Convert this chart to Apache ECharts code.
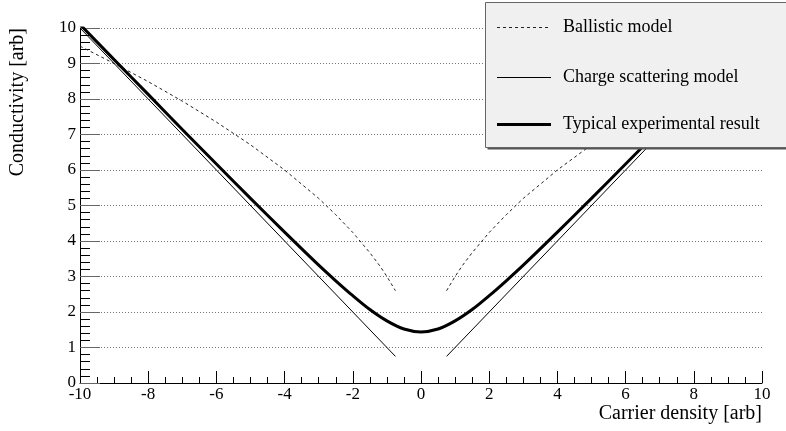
<!DOCTYPE html>
<html>
<head>
<meta charset="utf-8">
<script src="https://cdn.jsdelivr.net/npm/echarts@6/dist/echarts.min.js"></script>
<style>
  html, body { margin: 0; padding: 0; background: #fff; }
  #chart { width: 786px; height: 431px; }
</style>
</head>
<body>
<div id="chart"></div>
<script>
// Conductivity versus carrier density: two model curves and a measured curve
const FONT = 'Liberation Serif';

// Ballistic model (two branches, gap around the neutrality point)
const ballisticLeftX  = [-10, -9, -8, -7, -6, -5, -4, -3, -2.5, -2, -1.5, -1.2, -1, -0.75];
const ballisticLeftY  = [9.49, 9.0, 8.49, 7.94, 7.35, 6.71, 6.0, 5.2, 4.74, 4.24, 3.67, 3.29, 3.0, 2.6];
const ballisticRightX = [0.75, 1, 1.2, 1.5, 2, 2.5, 3, 4, 5, 6, 7, 8, 9, 10];
const ballisticRightY = [2.6, 3.0, 3.29, 3.67, 4.24, 4.74, 5.2, 6.0, 6.71, 7.35, 7.94, 8.49, 9.0, 9.49];

// Charge scattering model (straight branches)
const scatterLeftX  = [-10, -0.75];
const scatterLeftY  = [10, 0.75];
const scatterRightX = [0.75, 10];
const scatterRightY = [0.75, 10];

// Typical experimental result
const expX = [-10, -9, -8, -7, -6, -5, -4, -3, -2.5, -2, -1.5, -1, -0.5, 0, 0.5, 1, 1.5, 2, 2.5, 3, 4, 5, 6, 7, 8, 9, 10];
const expY = [10.1, 9.11, 8.13, 7.14, 6.17, 5.2, 4.25, 3.32, 2.88, 2.46, 2.07, 1.75, 1.52, 1.44, 1.52, 1.75, 2.07, 2.46, 2.88, 3.32, 4.25, 5.2, 6.17, 7.14, 8.13, 9.11, 10.1];

// Axis ticks
const xTicks = [-10, -8, -6, -4, -2, 0, 2, 4, 6, 8, 10];
const yTicks = [0, 1, 2, 3, 4, 5, 6, 7, 8, 9, 10];

const legendNames = ['Ballistic model', 'Charge scattering model', 'Typical experimental result'];

function pairs(xs, ys) { return xs.map((x, i) => [x, ys[i]]); }
function branches(lx, ly, rx, ry) {
  return pairs(lx, ly).concat([[0, '-']], pairs(rx, ry));
}

const chart = echarts.init(document.getElementById('chart'), null, { renderer: 'canvas' });

const legendLeft = 497, legendLen = 54, legendText = 563;
const legendRows = [27, 77, 124];
const legendStyles = [
  { stroke: '#222', lineWidth: 1, lineDash: [3, 3] },
  { stroke: '#000', lineWidth: 1 },
  { stroke: '#000', lineWidth: 3 }
];

const legendGraphics = [
  { type: 'rect', z: 10, shape: { x: 487.5, y: 4.5, width: 320, height: 145 }, style: { fill: '#555' } },
  { type: 'rect', z: 10, shape: { x: 485.5, y: 2.5, width: 320, height: 145 }, style: { fill: '#f0f0f0', stroke: '#666', lineWidth: 1 } }
];
legendNames.forEach((name, i) => {
  legendGraphics.push({
    type: 'line', z: 11,
    shape: { x1: legendLeft, y1: legendRows[i] + 0.5, x2: legendLeft + legendLen, y2: legendRows[i] + 0.5 },
    style: legendStyles[i]
  });
  legendGraphics.push({
    type: 'text', z: 11, x: legendText, y: legendRows[i],
    style: { text: name, font: '18px "' + FONT + '"', fill: '#000', align: 'left', verticalAlign: 'middle' }
  });
});

const option = {
  animation: false,
  backgroundColor: '#fff',
  grid: { left: 80, right: 24, top: 28, bottom: 48, containLabel: false },
  xAxis: {
    type: 'value', min: -10, max: 10, interval: 2,
    axisLine: { onZero: false, lineStyle: { color: '#000', width: 1 } },
    axisTick: { inside: true, length: 12, lineStyle: { color: '#000' } },
    minorTick: { show: true, splitNumber: 4, length: 6, lineStyle: { color: '#000' } },
    splitLine: { show: false },
    axisLabel: {
      margin: 3, color: '#000', fontFamily: FONT, fontSize: 17,
      customValues: xTicks,
      formatter: v => String(v)
    }
  },
  yAxis: {
    type: 'value', min: 0, max: 10, interval: 1,
    axisLine: { show: true, onZero: false, lineStyle: { color: '#000', width: 1 } },
    axisTick: { show: true, inside: true, length: 20, lineStyle: { color: '#666' } },
    minorTick: { show: true, splitNumber: 5, length: 10, lineStyle: { color: '#000' } },
    splitLine: { show: true, lineStyle: { color: '#777', width: 1, type: [1, 2] } },
    axisLabel: {
      margin: 4, color: '#000', fontFamily: FONT, fontSize: 17,
      customValues: yTicks,
      formatter: v => String(v)
    }
  },
  series: [
    {
      name: legendNames[0], type: 'line', showSymbol: false, symbol: 'none', z: 2,
      data: branches(ballisticLeftX, ballisticLeftY, ballisticRightX, ballisticRightY),
      lineStyle: { color: '#222', width: 1, type: [3, 3] }
    },
    {
      name: legendNames[1], type: 'line', showSymbol: false, symbol: 'none', z: 3,
      data: branches(scatterLeftX, scatterLeftY, scatterRightX, scatterRightY),
      lineStyle: { color: '#000', width: 1 }
    },
    {
      name: legendNames[2], type: 'line', showSymbol: false, symbol: 'none', smooth: 0.3, z: 4,
      data: pairs(expX, expY),
      lineStyle: { color: '#000', width: 3 }
    }
  ],
  graphic: legendGraphics.concat([
    {
      type: 'text', x: 18, y: 28, rotation: Math.PI / 2,
      style: { text: 'Conductivity [arb]', font: '20px "' + FONT + '"', fill: '#000', align: 'right', verticalAlign: 'middle' }
    },
    {
      type: 'text', x: 762, y: 414,
      style: { text: 'Carrier density [arb]', font: '20px "' + FONT + '"', fill: '#000', align: 'right', verticalAlign: 'middle' }
    }
  ])
};

chart.setOption(option);
</script>
</body>
</html>
